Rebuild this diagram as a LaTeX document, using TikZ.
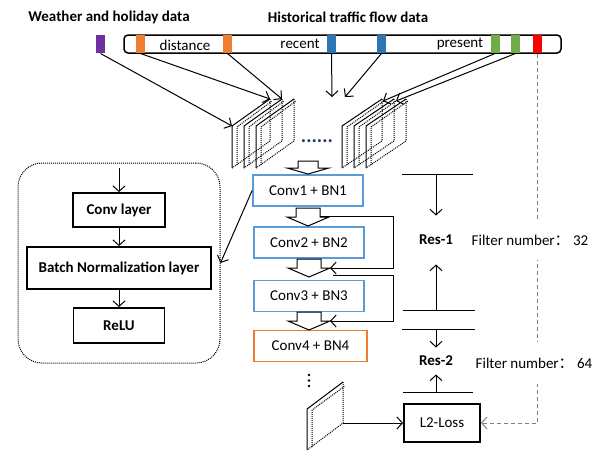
\documentclass[tikz,border=0pt]{standalone}
\usepackage{fontspec}
\setmainfont{Carlito}
\newfontfamily\cjk{Noto Sans CJK SC}
\usetikzlibrary{arrows.meta,calc}
\definecolor{wpurple}{HTML}{7030A0}
\definecolor{dorange}{HTML}{ED7D31}
\definecolor{rblue}{HTML}{2E75B6}
\definecolor{pgreen}{HTML}{70AD47}
\definecolor{cred}{HTML}{FF0000}
\definecolor{convblue}{HTML}{5B9BD5}
\definecolor{dotnavy}{HTML}{203864}

\begin{document}
\begin{tikzpicture}[x=1pt,y=-1pt,line width=1pt,
  >={Straight Barb[length=5.5pt,width=12pt]},
  every node/.style={font=\fontsize{15}{18}\selectfont},
  slot/.style={minimum width=9pt,minimum height=18pt,inner sep=0pt},
  layer/.style={draw,line width=1.8pt,font=\fontsize{15}{18}\selectfont\bfseries},
  convbn/.style={draw=convblue,line width=1.8pt,minimum width=110pt,minimum height=31pt},
  head/.style={font=\fontsize{15}{18}\selectfont\bfseries}]
\useasboundingbox (0,0) rectangle (608,453);

\node[head](hw) at (109,17){Weather and holiday data};
\node[head](hh) at (348,17){Historical traffic flow data};

\node[draw,rounded corners=4pt,line width=1.5pt,minimum width=437pt,minimum height=18pt,inner sep=0pt](hist) at (342.5,44){};
\node[slot,fill=wpurple](wthr) at (100.5,44){};
\node[slot,fill=dorange](dst1) at (140.5,44){};
\node[slot,fill=dorange](dst2) at (227.5,44){};
\node[slot,fill=rblue](rec1) at (331.5,44){};
\node[slot,fill=rblue](rec2) at (381.5,44){};
\node[slot,fill=pgreen](pre1) at (495,44){};
\node[slot,fill=pgreen](pre2) at (515.5,44){};
\node[slot,fill=cred](cur) at (537,44){};
\node(tdst) at (185,45){distance};
\node(trec) at (300,44){recent};
\node(tpre) at (460,44){present};

% feature maps
\draw (232,168) -- ++(0,-42) -- ++(38,-27);
\draw[densely dotted] (270,99) -- ++(0,42) -- ++(-38,27);
\draw[densely dotted] (237,165) -- ++(0,-38) -- ++(35,-26);
\draw (244,168) -- ++(0,-42) -- ++(38,-27);
\draw[densely dotted] (282,99) -- ++(0,42) -- ++(-38,27);
\draw[densely dotted] (249,165) -- ++(0,-38) -- ++(35,-26);
\draw (256,168) -- ++(0,-42) -- ++(38,-27);
\draw[densely dotted] (294,99) -- ++(0,42) -- ++(-38,27);
\draw[densely dotted] (261,165) -- ++(0,-38) -- ++(35,-26);

\draw (342,168) -- ++(0,-42) -- ++(40,-27);
\draw[densely dotted] (382,99) -- ++(0,42) -- ++(-40,27);
\draw[densely dotted] (347,165) -- ++(0,-38) -- ++(37,-26);
\draw (354,168) -- ++(0,-42) -- ++(40,-27);
\draw[densely dotted] (394,99) -- ++(0,42) -- ++(-40,27);
\draw[densely dotted] (359,165) -- ++(0,-38) -- ++(37,-26);
\draw (366,168) -- ++(0,-42) -- ++(40,-27);
\draw[densely dotted] (406,99) -- ++(0,42) -- ++(-40,27);
\draw[densely dotted] (371,165) -- ++(0,-38) -- ++(37,-26);

\coordinate(L1) at (232,126);
\coordinate(L1t) at (270,99);
\coordinate(L2t) at (282,99);
\coordinate(R1t) at (383,101);
\coordinate(R2t) at (396,101);
\coordinate(m1) at (332,97);
\coordinate(m2) at (345,97);
\draw[->](wthr.south)--(L1);
\draw[->](dst1.south)--(L1t);
\draw[->](dst2.south)--(L2t);
\draw[->](rec1.south)--(m1);
\draw[->](rec2.south)--(m2);
\draw[->](pre1.south)--(R1t);
\draw[->](pre2.south)--(R2t);
\node[font=\fontsize{20}{20}\selectfont\bfseries,text=dotnavy](dots) at (317,141){......};

% conv stack
\node[convbn](c1) at (308,190.5){Conv1 + BN1};
\node[convbn](c2) at (309,242.5){Conv2 + BN2};
\node[convbn](c3) at (309,296){Conv3 + BN3};
\node[convbn,draw=dorange,minimum width=113pt](c4) at (310.5,346){Conv4 + BN4};
\coordinate(b0) at (308,161);
\coordinate(b1) at (308,208);
\coordinate(b2) at (309,259);
\coordinate(b3) at (309,312);
\draw (b0) ++(-10,0) -- ++(0,7) -- ++(-11,0) -- ++(21,6) -- ++(21,-6) -- ++(-11,0) -- ++(0,-7) -- cycle;
\draw (b1) ++(-12,0) -- ++(0,9) -- ++(-9,0) -- ++(21,9) -- ++(21,-9) -- ++(-9,0) -- ++(0,-9) -- cycle;
\draw (b2) ++(-12,0) -- ++(0,9) -- ++(-9,0) -- ++(21,9) -- ++(21,-9) -- ++(-9,0) -- ++(0,-9) -- cycle;
\draw (b3) ++(-12,0) -- ++(0,9) -- ++(-9,0) -- ++(21,9) -- ++(21,-9) -- ++(-9,0) -- ++(0,-9) -- cycle;

\coordinate(skipx) at (393,0);
\coordinate(s1) at ($(b1)+(12,8)$);
\coordinate(e1) at ($(b2)+(21,9)$);
\coordinate(s2) at ($(b2)+(24,16)$);
\coordinate(e2) at ($(b3)+(21,9)$);
\draw[->](s1)--(s1-|skipx)|-(e1);
\draw[->](s2)--(s2-|skipx)|-(e2);

% unit block
\node[draw,densely dotted,rounded corners=24pt,minimum width=202pt,minimum height=200pt](unit) at (119,263){};
\node[layer,minimum width=92pt,minimum height=34pt](cl) at (119,210){Conv layer};
\node[layer,minimum width=184pt,minimum height=42pt](bn) at (119,268){Batch Normalization layer};
\node[layer,minimum width=91pt,minimum height=35pt](relu) at (119,325.5){ReLU};
\coordinate(uin) at (119,168);
\draw[->](uin)--(cl);
\draw[->](cl)--(bn);
\draw[->](bn)--(relu);
\draw[->](c1.west)--(unit.east);

% residual marks
\coordinate(r1a) at (402,174);
\coordinate(r1b) at (473,174);
\coordinate(r1m) at (436,174);
\coordinate(r2a) at (403,310);
\coordinate(r2b) at (475,310);
\coordinate(r2m) at (436,310);
\coordinate(r3a) at (402,329);
\coordinate(r3b) at (475,329);
\coordinate(r3m) at (436,329);
\coordinate(r4a) at (403,392);
\coordinate(r4b) at (473,392);
\coordinate(r4m) at (436,392);
\draw(r1a)--(r1b);
\draw(r2a)--(r2b);
\draw(r3a)--(r3b);
\draw(r4a)--(r4b);
\node[head,minimum height=48pt](res1) at (436,240){Res-1};
\node[head,minimum height=26pt](res2) at (436,361){Res-2};
\draw[->](r1m)--(res1);
\draw[->](r2m)--(res1);
\draw[->](r3m)--(res2);
\draw[->](r4m)--(res2);

% loss
\node[draw,line width=1.8pt,minimum width=76pt,minimum height=38pt](l2) at (442,423){L2-Loss};
\draw (307,450) -- ++(0,-41) -- ++(36,-27);
\draw[densely dotted] (343,382) -- ++(0,41) -- ++(-36,27);
\draw[densely dotted] (312,447) -- ++(0,-37) -- ++(33,-24);
\coordinate(fm) at (343,423);
\fill (309,375) circle (1.3) (309,380.5) circle (1.3) (309,386) circle (1.3);
\draw[->](fm)--(l2.west);
\draw[->,dashed,gray,dash pattern=on 4pt off 3pt](cur.south)|-(l2.east);
\node[fill=white,minimum height=40pt,inner xsep=2pt](f1) at (530,240){Filter number{\cjk ：} 32};
\node[fill=white,minimum height=42pt,inner xsep=2pt](f2) at (534,363){Filter number{\cjk ：} 64};
\end{tikzpicture}
\end{document}
